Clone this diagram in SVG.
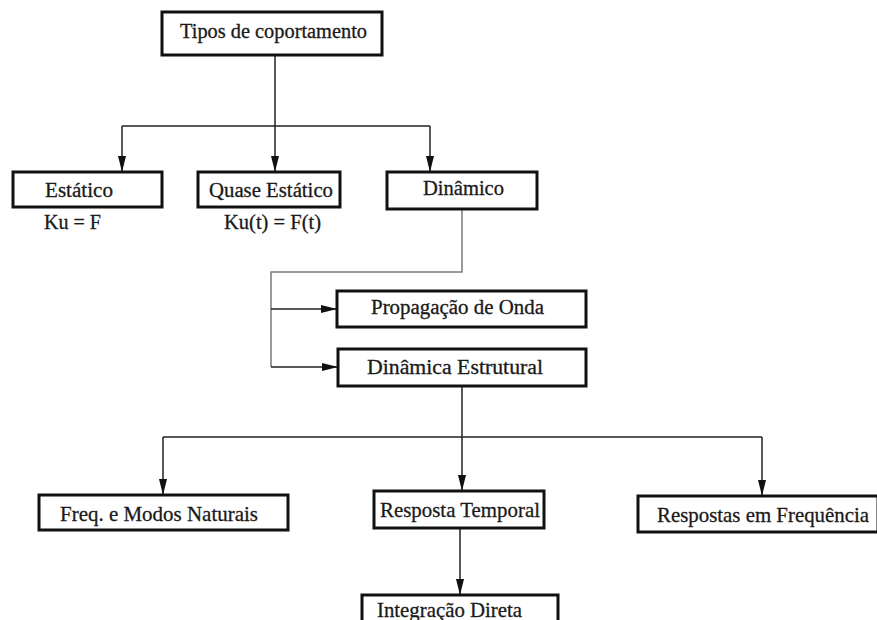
<svg xmlns="http://www.w3.org/2000/svg" width="877" height="620" viewBox="0 0 877 620">
<defs>
<style>
.box{fill:#fff;stroke:#111;stroke-width:3}
text{font-family:'Liberation Serif','DejaVu Serif','Times New Roman',serif;fill:#1a1a1a;stroke:#1a1a1a;stroke-width:0.3}
.t{font-size:20px}
.tb{font-size:22px}
.ln{fill:none;stroke:#222;stroke-width:1.5}
.lg{fill:none;stroke:#7a7a7a;stroke-width:1.5}
</style>
<marker id="ah" viewBox="0 0 16 8" refX="16" refY="4" markerWidth="16" markerHeight="8" markerUnits="userSpaceOnUse" orient="auto">
<path d="M0,0 L16,4 L0,8 Z" fill="#111"/>
</marker>
</defs>
<rect width="877" height="620" fill="#fff"/>
<g id="connectors">
<path class="ln" d="M275,55 V126"/>
<path class="ln" d="M122,126 H430"/>
<path class="ln" d="M122,126 V172" marker-end="url(#ah)"/>
<path class="ln" d="M275,126 V172" marker-end="url(#ah)"/>
<path class="ln" d="M430,126 V172" marker-end="url(#ah)"/>
<path class="lg" d="M462,209 V272 H271 V367"/>
<path class="ln" d="M271,309 H337" marker-end="url(#ah)"/>
<path class="ln" d="M271,367 H338" marker-end="url(#ah)"/>
<path class="ln" d="M462,386 V491" marker-end="url(#ah)"/>
<path class="ln" d="M163,437 H762"/>
<path class="ln" d="M163,437 V495" marker-end="url(#ah)"/>
<path class="ln" d="M762,437 V496" marker-end="url(#ah)"/>
<path class="ln" d="M460,528 V595" marker-end="url(#ah)"/>
</g>
<g id="tipos">
<rect class="box" x="162" y="12" width="220" height="43"/>
<text class="t" x="180" y="38" textLength="187" lengthAdjust="spacingAndGlyphs">Tipos de coportamento</text>
</g>
<g id="estatico">
<rect class="box" x="13" y="172" width="149" height="35"/>
<text class="t" x="45" y="197" textLength="68" lengthAdjust="spacingAndGlyphs">Estático</text>
</g>
<g id="ku">
<text class="t" x="44" y="229" textLength="57" lengthAdjust="spacingAndGlyphs">Ku = F</text>
</g>
<g id="quase">
<rect class="box" x="198" y="172" width="142" height="35"/>
<text class="t" x="209" y="197" textLength="124" lengthAdjust="spacingAndGlyphs">Quase Estático</text>
</g>
<g id="kut">
<text class="t" x="224" y="229" textLength="97" lengthAdjust="spacingAndGlyphs">Ku(t) = F(t)</text>
</g>
<g id="dinamico">
<rect class="box" x="387" y="172" width="150" height="37"/>
<text class="t" x="423" y="195" textLength="81" lengthAdjust="spacingAndGlyphs">Dinâmico</text>
</g>
<g id="propagacao">
<rect class="box" x="337" y="291" width="249" height="36"/>
<text class="t" x="371" y="314" textLength="173" lengthAdjust="spacingAndGlyphs">Propagação de Onda</text>
</g>
<g id="dinamica">
<rect class="box" x="338" y="349" width="248" height="37"/>
<text class="t" x="367" y="374" textLength="176" lengthAdjust="spacingAndGlyphs">Dinâmica Estrutural</text>
</g>
<g id="freq">
<rect class="box" x="39" y="495" width="249" height="35"/>
<text class="tb" x="60" y="521" textLength="198" lengthAdjust="spacingAndGlyphs">Freq. e Modos Naturais</text>
</g>
<g id="resposta">
<rect class="box" x="374" y="491" width="170" height="37"/>
<text class="tb" x="380" y="517" textLength="160" lengthAdjust="spacingAndGlyphs">Resposta Temporal</text>
</g>
<g id="respostas">
<rect class="box" x="638" y="496" width="240" height="36"/>
<text class="tb" x="657" y="522" textLength="212" lengthAdjust="spacingAndGlyphs">Respostas em Frequência</text>
</g>
<g id="integracao">
<rect class="box" x="362" y="595" width="196" height="40"/>
<text class="tb" x="377" y="617" textLength="145" lengthAdjust="spacingAndGlyphs">Integração Direta</text>
</g>
</svg>
